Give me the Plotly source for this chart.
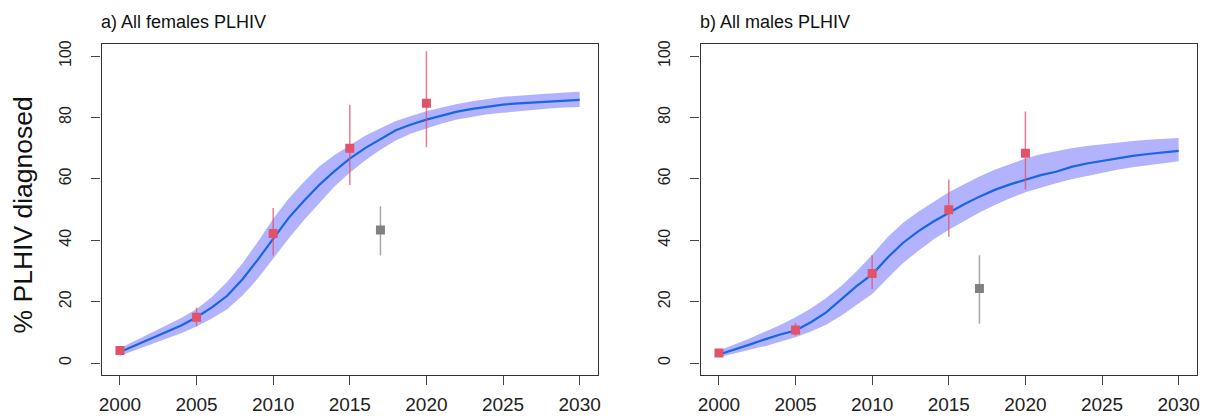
import plotly.graph_objects as go

# model years
years = list(range(2000, 2031))

# a) females: median curve and 95% band
fem_mid = [3.6, 5.7, 7.9, 10.0, 12.2, 14.9, 18.1, 21.9, 27.3, 33.7, 40.5,
           47.2, 52.8, 58.0, 62.5, 66.6, 70.0, 73.0, 75.8, 77.7, 79.3,
           80.6, 81.9, 82.8, 83.5, 84.2, 84.6, 84.9, 85.2, 85.5, 85.7]
fem_lo = [2.4, 4.2, 6.0, 7.8, 9.7, 11.9, 14.5, 17.5, 22.0, 27.5, 34.0,
          40.5, 46.5, 52.0, 57.5, 62.0, 66.0, 69.5, 72.5, 74.8, 76.5,
          78.0, 79.3, 80.2, 81.0, 81.5, 82.0, 82.5, 82.9, 83.2, 83.4]
fem_hi = [4.8, 7.2, 9.8, 12.2, 14.7, 17.6, 21.5, 26.5, 32.5, 39.5, 47.0,
          53.5, 59.0, 64.0, 67.8, 71.0, 74.0, 76.5, 78.8, 80.5, 82.0,
          83.2, 84.4, 85.3, 86.0, 86.7, 87.1, 87.5, 87.8, 88.1, 88.4]

# b) males
mal_mid = [2.8, 4.3, 6.0, 7.7, 9.3, 10.6, 13.3, 16.5, 20.8, 25.1, 28.9,
           34.3, 39.1, 42.9, 46.1, 49.0, 51.7, 54.2, 56.4, 58.2, 59.8,
           61.2, 62.3, 63.9, 65.0, 65.8, 66.8, 67.5, 68.1, 68.5, 69.1]
mal_lo = [1.9, 3.0, 4.3, 5.5, 6.9, 8.4, 10.3, 12.5, 15.5, 19.0, 22.5,
          27.5, 32.5, 36.5, 40.2, 43.4, 46.3, 49.0, 51.5, 53.7, 55.6,
          57.2, 58.6, 59.9, 61.0, 62.0, 63.0, 63.8, 64.5, 65.1, 65.7]
mal_hi = [4.1, 6.0, 8.0, 10.2, 12.4, 14.9, 17.8, 21.2, 25.2, 30.0, 35.3,
          41.0, 45.6, 49.3, 52.5, 55.6, 58.2, 60.8, 63.0, 64.8, 66.6,
          68.0, 69.0, 70.0, 70.7, 71.3, 71.8, 72.3, 72.7, 73.0, 73.3]

# survey estimates (red) with CIs
obs_years = [2000, 2005, 2010, 2015, 2020]
fem_obs = [4.1, 14.9, 42.2, 70.0, 84.6]
fem_obs_lo = [4.1, 12.0, 35.0, 58.0, 70.3]
fem_obs_hi = [4.1, 18.0, 50.5, 84.1, 101.6]
mal_obs = [3.3, 10.8, 29.2, 49.9, 68.3]
mal_obs_lo = [3.3, 8.9, 24.1, 41.1, 56.5]
mal_obs_hi = [3.3, 13.0, 35.1, 59.8, 81.9]

# other estimate (grey)
grey_year = [2017]
fem_grey = [43.3]
fem_grey_lo = [35.0]
fem_grey_hi = [51.1]
mal_grey = [24.3]
mal_grey_lo = [12.8]
mal_grey_hi = [35.1]

BAND = "rgba(0,0,255,0.3)"
LINE = "#1766E3"
RED = "#DF536B"
GREY = "#808080"
FONT = "Liberation Sans, Arial"

# page body has an 8px margin, so the figure is a bit smaller than the window
W, H = 1202, 410

fig = go.Figure()


def panel(xa, ya, mid, lo, hi, obs, olo, ohi, g, glo, ghi):
    fig.add_trace(go.Scatter(x=years, y=hi, mode="lines", line=dict(width=0),
                             xaxis=xa, yaxis=ya, showlegend=False, hoverinfo="skip"))
    fig.add_trace(go.Scatter(x=years, y=lo, mode="lines", line=dict(width=0),
                             fill="tonexty", fillcolor=BAND,
                             xaxis=xa, yaxis=ya, showlegend=False, hoverinfo="skip"))
    fig.add_trace(go.Scatter(x=years, y=mid, mode="lines", line=dict(color=LINE, width=2.2),
                             xaxis=xa, yaxis=ya, showlegend=False))
    fig.add_trace(go.Scatter(
        x=obs_years, y=obs, mode="markers",
        marker=dict(symbol="square", size=9, color=RED),
        error_y=dict(type="data", symmetric=False,
                     array=[h - v for h, v in zip(ohi, obs)],
                     arrayminus=[v - l for v, l in zip(obs, olo)],
                     color="rgba(223,83,107,0.75)", thickness=1.5, width=0),
        xaxis=xa, yaxis=ya, showlegend=False))
    fig.add_trace(go.Scatter(
        x=grey_year, y=g, mode="markers",
        marker=dict(symbol="square", size=9, color=GREY),
        error_y=dict(type="data", symmetric=False,
                     array=[h - v for h, v in zip(ghi, g)],
                     arrayminus=[v - l for v, l in zip(g, glo)],
                     color="rgba(128,128,128,0.7)", thickness=1.5, width=0),
        xaxis=xa, yaxis=ya, showlegend=False))


panel("x", "y", fem_mid, fem_lo, fem_hi, fem_obs, fem_obs_lo, fem_obs_hi,
      fem_grey, fem_grey_lo, fem_grey_hi)
panel("x2", "y2", mal_mid, mal_lo, mal_hi, mal_obs, mal_obs_lo, mal_obs_hi,
      mal_grey, mal_grey_lo, mal_grey_hi)

xcommon = dict(range=[1998.8, 2031.2], tickvals=[2000, 2005, 2010, 2015, 2020, 2025, 2030],
               showline=True, linecolor="#333", linewidth=1.3, mirror=True,
               ticks="outside", ticklen=9, tickcolor="#444", tickwidth=1.3,
               showgrid=False, zeroline=False, ticklabelstandoff=3,
               tickfont=dict(family=FONT, size=19, color="#222"))
ycommon = dict(range=[-4, 104], tickvals=[0, 20, 40, 60, 80, 100],
               showline=True, linecolor="#333", linewidth=1.3, mirror=True,
               ticks="outside", ticklen=9, tickcolor="#444", tickwidth=1.3,
               showgrid=False, zeroline=False, tickangle=-90, ticklabelstandoff=14,
               tickfont=dict(family=FONT, size=16, color="#222"))

ydom = [1 - 367 / H, 1 - 33 / H]

fig.update_layout(
    width=W, height=H,
    margin=dict(l=0, r=0, t=0, b=0),
    paper_bgcolor="white", plot_bgcolor="white",
    xaxis=dict(domain=[91 / W, 590 / W], anchor="y", **xcommon),
    yaxis=dict(domain=ydom, anchor="x", **ycommon),
    xaxis2=dict(domain=[693 / W, 1192 / W], anchor="y2", **xcommon),
    yaxis2=dict(domain=ydom, anchor="x2", **ycommon),
    annotations=[
        dict(text="a) All females PLHIV", x=88 / W, y=1 - 11 / H, xref="paper", yref="paper",
             xanchor="left", yanchor="middle", showarrow=False,
             font=dict(family=FONT, size=18, color="#111")),
        dict(text="b) All males PLHIV", x=690 / W, y=1 - 11 / H, xref="paper", yref="paper",
             xanchor="left", yanchor="middle", showarrow=False,
             font=dict(family=FONT, size=18, color="#111")),
        dict(text="% PLHIV diagnosed", x=12 / W, y=1 - 205 / H, xref="paper", yref="paper",
             xanchor="center", yanchor="middle", showarrow=False, textangle=-90,
             font=dict(family=FONT, size=26.5, color="#111")),
    ],
)

fig.write_html("out.html")
